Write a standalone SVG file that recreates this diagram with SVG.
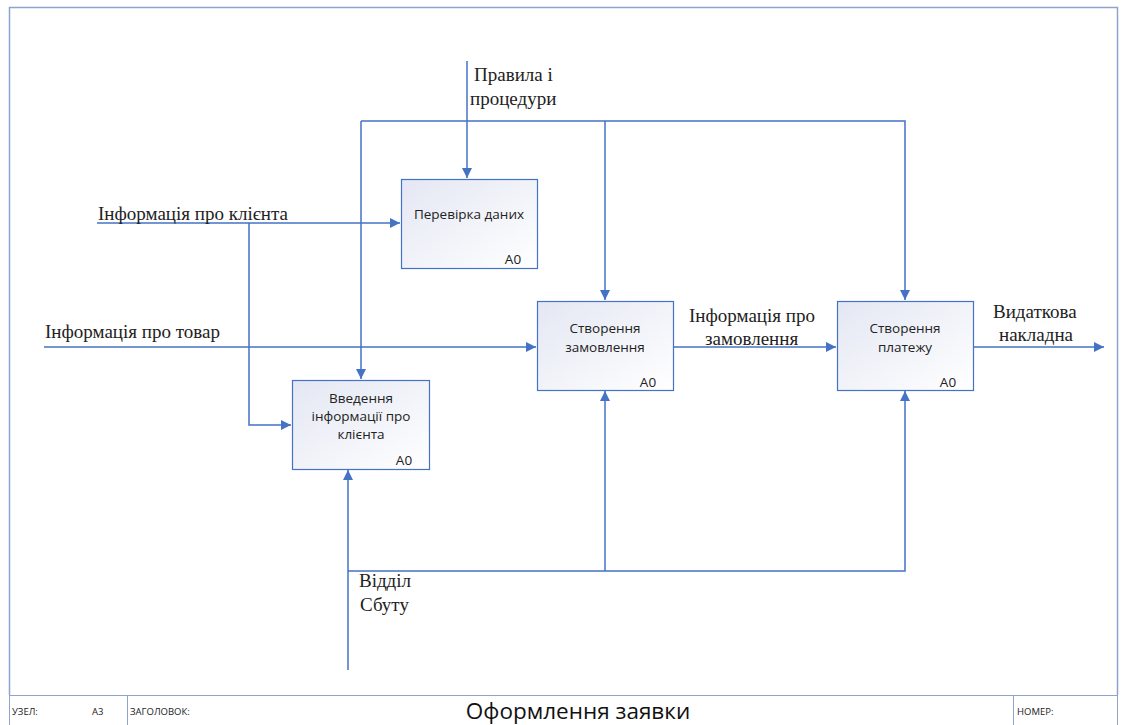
<svg xmlns="http://www.w3.org/2000/svg" width="1126" height="725" viewBox="0 0 1126 725">
<style>
.box{fill:url(#g);stroke:#4472C4;stroke-width:1.2}
.ln{fill:none;stroke:#4472C4;stroke-width:1.5}
.bt{font-family:"Open Sans","Noto Sans","DejaVu Sans",sans-serif;font-size:13.5px;fill:#222}
.lab{font-family:"Liberation Serif","Times New Roman",serif;font-size:19px;fill:#222}
.sm{font-family:"Open Sans","Noto Sans",sans-serif;font-size:9.5px;fill:#222}
</style>
<defs>
<linearGradient id="g" x1="0" y1="0" x2="1" y2="1">
<stop offset="0" stop-color="#E4E7F3"/>
<stop offset="1" stop-color="#FFFFFF"/>
</linearGradient>
<marker id="a" viewBox="0 0 10 10" refX="10" refY="5" markerWidth="10" markerHeight="10" markerUnits="userSpaceOnUse" orient="auto">
<path d="M0,0 L10,5 L0,10 z" fill="#4472C4"/>
</marker>
</defs>
<rect x="0" y="0" width="1126" height="725" fill="#fff"/>
<g id="frame">
<path d="M9.5,695 L9.5,7.5 L1117.5,7.5 L1117.5,695" fill="none" stroke="#8EA4CC" stroke-width="1.5"/>
<rect x="9.5" y="695.5" width="1108" height="30" fill="#fff" stroke="#8EA4CC" stroke-width="1"/>
<line x1="127.5" y1="695.5" x2="127.5" y2="725" stroke="#8EA4CC"/>
<line x1="1013.5" y1="695.5" x2="1013.5" y2="725" stroke="#8EA4CC"/>
<text class="sm" x="12" y="715">УЗЕЛ:</text>
<text class="sm" x="92" y="715">A3</text>
<text class="sm" x="130" y="715">ЗАГОЛОВОК:</text>
<text x="578" y="719" text-anchor="middle" font-family="'Open Sans','Noto Sans',sans-serif" font-size="22.5" fill="#111">Оформлення заявки</text>
<text class="sm" x="1017" y="715">НОМЕР:</text>
</g>
<g id="connectors">
<path class="ln" d="M467,61 L467,178" marker-end="url(#a)"/>
<path class="ln" d="M361,121 L905,121 L905,300" marker-end="url(#a)"/>
<path class="ln" d="M361,121 L361,379" marker-end="url(#a)"/>
<path class="ln" d="M605,121 L605,300" marker-end="url(#a)"/>
<path class="ln" d="M97,223 L400,223" marker-end="url(#a)"/>
<path class="ln" d="M249,223 L249,425 L291,425" marker-end="url(#a)"/>
<path class="ln" d="M44,347 L536,347" marker-end="url(#a)"/>
<path class="ln" d="M673,347 L836,347" marker-end="url(#a)"/>
<path class="ln" d="M973,347 L1104,347" marker-end="url(#a)"/>
<path class="ln" d="M348,670 L348,470" marker-end="url(#a)"/>
<path class="ln" d="M348,571 L905,571 L905,391" marker-end="url(#a)"/>
<path class="ln" d="M605,571 L605,391" marker-end="url(#a)"/>
<text class="lab" x="474" y="81">Правила і</text>
<text class="lab" x="470" y="105">процедури</text>
<text class="lab" x="98" y="220">Інформація про клієнта</text>
<text class="lab" x="45" y="338">Інформація про товар</text>
<text class="lab" x="689" y="322">Інформація про</text>
<text class="lab" x="705" y="345">замовлення</text>
<text class="lab" x="993" y="318">Видаткова</text>
<text class="lab" x="999" y="341">накладна</text>
<text class="lab" x="359" y="587">Відділ</text>
<text class="lab" x="360" y="611">Сбуту</text>
</g>
<g id="n1">
<rect class="box" x="401.5" y="179.5" width="136" height="89"/>
<text class="bt" x="469" y="219" text-anchor="middle">Перевірка даних</text>
<text class="bt" x="513" y="264" text-anchor="middle">A0</text>
</g>
<g id="n2">
<rect class="box" x="292.5" y="380.5" width="137" height="89"/>
<text class="bt" x="361" y="403" text-anchor="middle">Введення</text>
<text class="bt" x="361" y="421" text-anchor="middle">інформації про</text>
<text class="bt" x="361" y="439" text-anchor="middle">клієнта</text>
<text class="bt" x="404" y="465" text-anchor="middle">A0</text>
</g>
<g id="n3">
<rect class="box" x="537.5" y="301.5" width="136" height="89"/>
<text class="bt" x="605" y="333" text-anchor="middle">Створення</text>
<text class="bt" x="605" y="352" text-anchor="middle">замовлення</text>
<text class="bt" x="648" y="387" text-anchor="middle">A0</text>
</g>
<g id="n4">
<rect class="box" x="837.5" y="301.5" width="136" height="89"/>
<text class="bt" x="905" y="333" text-anchor="middle">Створення</text>
<text class="bt" x="905" y="352" text-anchor="middle">платежу</text>
<text class="bt" x="948" y="387" text-anchor="middle">A0</text>
</g>
</svg>
